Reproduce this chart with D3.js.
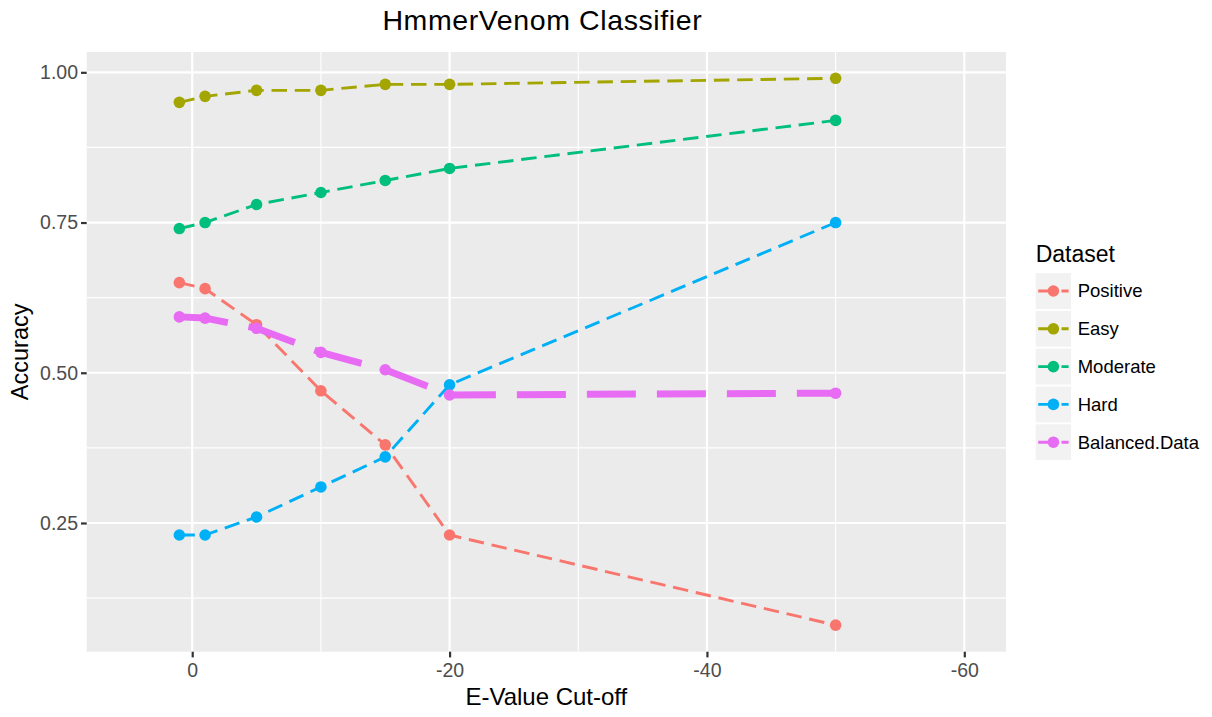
<!DOCTYPE html>
<html>
<head>
<meta charset="utf-8">
<script src="https://cdn.jsdelivr.net/npm/d3@7"></script>
<style>
  html, body { margin: 0; padding: 0; background: #fff; }
  svg { display: block; font-family: "Liberation Sans", Arial, Helvetica, sans-serif; }
</style>
</head>
<body>
<svg id="chart" width="1212" height="717"></svg>
<script>
// E-value cut-off (log10 exponent) for each run
const eValues = [1, -1, -5, -10, -15, -20, -50];

// Accuracy per dataset
const positive = [0.65, 0.64, 0.58, 0.47, 0.38, 0.23, 0.08];
const easy     = [0.95, 0.96, 0.97, 0.97, 0.98, 0.98, 0.99];
const moderate = [0.74, 0.75, 0.78, 0.80, 0.82, 0.84, 0.92];
const hard     = [0.23, 0.23, 0.26, 0.31, 0.36, 0.48, 0.75];
const balanced = [0.593, 0.591, 0.574, 0.534, 0.505, 0.463, 0.466];

const seriesNames  = ["Positive", "Easy", "Moderate", "Hard", "Balanced.Data"];
const seriesValues = [positive, easy, moderate, hard, balanced];
const seriesColors = ["#F8766D", "#A3A500", "#00BF7D", "#00B0F6", "#E76BF3"];

const xTicks = [0, -20, -40, -60];
const xMinor = [-10, -30, -50];
const yTicks = [0.25, 0.50, 0.75, 1.00];
const yMinor = [0.125, 0.375, 0.625, 0.875];

const titleText  = "HmmerVenom Classifier";
const xTitleText = "E-Value Cut-off";
const yTitleText = "Accuracy";
const legendTitleText = "Dataset";

// panel geometry
const panel = { left: 86.7, right: 1006, top: 52, bottom: 651.7 };

const svg = d3.select("#chart");

const x = d3.scaleLinear().domain([8.2, -63.24]).range([panel.left, panel.right]);
const y = d3.scaleLinear().domain([0.0358, 1.0338]).range([panel.bottom, panel.top]);

// panel background
svg.append("rect")
  .attr("x", panel.left).attr("y", panel.top)
  .attr("width", panel.right - panel.left)
  .attr("height", panel.bottom - panel.top)
  .attr("fill", "#EBEBEB");

const grid = svg.append("g");
// minor grid
grid.selectAll(".xminor").data(xMinor).join("line")
  .attr("class", "xminor")
  .attr("x1", d => x(d)).attr("x2", d => x(d))
  .attr("y1", panel.top).attr("y2", panel.bottom)
  .attr("stroke", "#fff").attr("stroke-width", 1.1);
grid.selectAll(".yminor").data(yMinor).join("line")
  .attr("class", "yminor")
  .attr("y1", d => y(d)).attr("y2", d => y(d))
  .attr("x1", panel.left).attr("x2", panel.right)
  .attr("stroke", "#fff").attr("stroke-width", 1.1);
// major grid
grid.selectAll(".xmajor").data(xTicks).join("line")
  .attr("class", "xmajor")
  .attr("x1", d => x(d)).attr("x2", d => x(d))
  .attr("y1", panel.top).attr("y2", panel.bottom)
  .attr("stroke", "#fff").attr("stroke-width", 2.2);
grid.selectAll(".ymajor").data(yTicks).join("line")
  .attr("class", "ymajor")
  .attr("y1", d => y(d)).attr("y2", d => y(d))
  .attr("x1", panel.left).attr("x2", panel.right)
  .attr("stroke", "#fff").attr("stroke-width", 2.2);

// axes
const xAxis = d3.axisBottom(x).tickValues(xTicks).tickFormat(d => String(d))
  .tickSize(5.7).tickPadding(6);
const yAxis = d3.axisLeft(y).tickValues(yTicks).tickFormat(d3.format(".2f"))
  .tickSize(5.7).tickPadding(3);

const gx = svg.append("g").attr("transform", `translate(0,${panel.bottom})`).call(xAxis);
const gy = svg.append("g").attr("transform", `translate(${panel.left},0)`).call(yAxis);
[gx, gy].forEach(g => {
  g.select(".domain").remove();
  g.selectAll(".tick line").attr("stroke", "#333333").attr("stroke-width", 2.2);
  g.selectAll(".tick text")
    .attr("fill", "#4D4D4D")
    .style("font-size", "19.5px")
    .style("font-family", "'Liberation Sans', Arial, Helvetica, sans-serif");
});

// series
const line = d3.line().x(d => x(d[0])).y(d => y(d[1]));
const seriesData = seriesNames.map((name, i) => ({
  name,
  color: seriesColors[i],
  thick: name === "Balanced.Data",
  points: eValues.map((e, j) => [e, seriesValues[i][j]])
}));

const lines = svg.append("g");
seriesData.forEach(s => {
  lines.append("path")
    .attr("d", line(s.points))
    .attr("fill", "none")
    .attr("stroke", s.color)
    .attr("stroke-width", s.thick ? 7 : 2.9)
    .attr("stroke-dasharray", s.thick ? "49 21" : "15.5 7.8")
    .attr("stroke-linecap", "butt")
    .attr("stroke-linejoin", "round");
});

const pts = svg.append("g");
seriesData.forEach(s => {
  pts.selectAll(null).data(s.points).join("circle")
    .attr("cx", d => x(d[0]))
    .attr("cy", d => y(d[1]))
    .attr("r", 5.8)
    .attr("fill", s.color);
});

// titles
svg.append("text")
  .attr("x", (panel.left + panel.right) / 2 - 4).attr("y", 29.5)
  .attr("text-anchor", "middle")
  .style("font-size", "28.5px").style("letter-spacing", "0.6px").attr("fill", "#000")
  .text(titleText);

svg.append("text")
  .attr("x", (panel.left + panel.right) / 2).attr("y", 705)
  .attr("text-anchor", "middle")
  .style("font-size", "24px").attr("fill", "#000")
  .text(xTitleText);

svg.append("text")
  .attr("transform", `translate(28,${(panel.top + panel.bottom) / 2}) rotate(-90)`)
  .attr("text-anchor", "middle")
  .style("font-size", "23.5px").attr("fill", "#000")
  .text(yTitleText);

// legend
const legend = svg.append("g");
const keyX = 1035.7, keyW = 35.4, slot = 37.8, firstCenter = 291;
legend.append("text")
  .attr("x", keyX).attr("y", 261.7)
  .style("font-size", "23px").attr("fill", "#000")
  .text(legendTitleText);

seriesData.forEach((s, i) => {
  const cy = firstCenter + i * slot;
  const g = legend.append("g");
  g.append("rect")
    .attr("x", keyX).attr("y", cy - slot / 2 + 1)
    .attr("width", keyW).attr("height", slot - 2)
    .attr("fill", "#F2F2F2");
  g.append("line")
    .attr("x1", keyX + 2.5).attr("x2", keyX + keyW - 2.5)
    .attr("y1", cy).attr("y2", cy)
    .attr("stroke", s.color).attr("stroke-width", 2.9)
    .attr("stroke-dasharray", "15.5 7.8");
  g.append("circle")
    .attr("cx", keyX + keyW / 2).attr("cy", cy).attr("r", 5.8)
    .attr("fill", s.color);
  g.append("text")
    .attr("x", 1077.7).attr("y", cy + 6.3)
    .style("font-size", "18.5px").attr("fill", "#000")
    .text(s.name);
});
</script>
</body>
</html>
